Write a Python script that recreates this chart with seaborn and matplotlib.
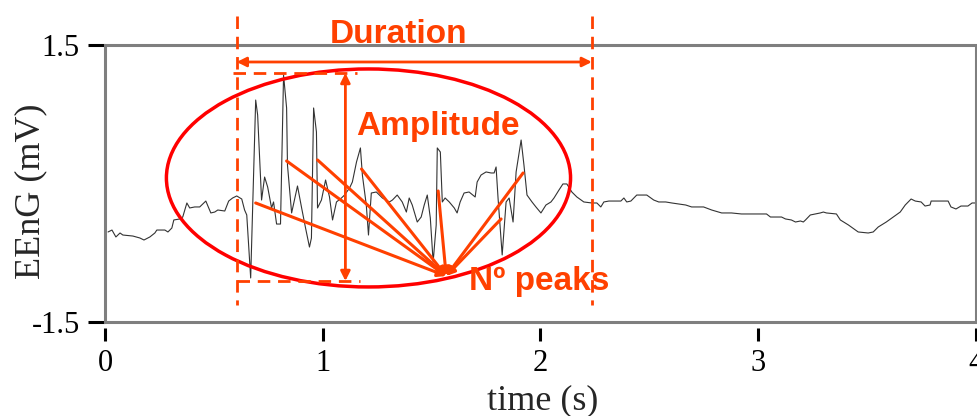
import seaborn as sns
import matplotlib.pyplot as plt
from matplotlib.patches import Ellipse, Rectangle

# EEnG trace (time in s, amplitude in mV)
time_s = [0.014, 0.032, 0.050, 0.069, 0.082, 0.128, 0.160, 0.179, 0.206, 0.229,
          0.238, 0.275, 0.289, 0.307, 0.316, 0.344, 0.357, 0.376, 0.389, 0.412,
          0.435, 0.444, 0.463, 0.486, 0.504, 0.518, 0.550, 0.568, 0.586, 0.605,
          0.628, 0.641,
          0.651, 0.669, 0.692, 0.701, 0.719, 0.733, 0.747, 0.765, 0.774, 0.788,
          0.806, 0.820, 0.834, 0.838, 0.857, 0.884, 0.903, 0.921, 0.939, 0.948,
          0.958, 0.971, 0.976, 0.994, 1.013, 1.031, 1.045, 1.063, 1.086, 1.100,
          1.123, 1.136, 1.155, 1.173, 1.182, 1.200, 1.210, 1.223, 1.246, 1.274,
          1.306, 1.320, 1.342, 1.365, 1.384, 1.397, 1.411, 1.434, 1.452, 1.466,
          1.480, 1.494, 1.507, 1.521, 1.526, 1.540, 1.549, 1.562, 1.581, 1.604,
          1.617, 1.631, 1.649, 1.672, 1.700, 1.709, 1.727, 1.750, 1.773, 1.787,
          1.796, 1.805, 1.824, 1.842, 1.856, 1.874, 1.888, 1.911, 1.924, 1.938,
          1.961, 1.979, 2.002, 2.025, 2.048, 2.062, 2.085, 2.103, 2.121, 2.144,
          2.167, 2.199, 2.236,
          2.259, 2.277, 2.291, 2.314, 2.369, 2.383, 2.396, 2.415, 2.442, 2.488,
          2.520, 2.543, 2.575, 2.603, 2.635, 2.667, 2.694, 2.749, 2.786, 2.832,
          2.877, 2.923, 3.001, 3.038, 3.056, 3.107, 3.125, 3.152, 3.171, 3.194,
          3.207, 3.217, 3.239, 3.285, 3.299, 3.313, 3.359, 3.377, 3.414, 3.459,
          3.505, 3.528, 3.551, 3.588, 3.620, 3.652, 3.675, 3.702, 3.721, 3.748,
          3.766, 3.789, 3.794, 3.872, 3.885, 3.908, 3.931, 3.963, 3.982, 4.000]

eeng_mv = [-0.525, -0.504, -0.579, -0.536, -0.558, -0.569, -0.590, -0.612, -0.579, -0.536,
           -0.504, -0.504, -0.525, -0.482, -0.395, -0.384, -0.363, -0.211, -0.265, -0.254,
           -0.254, -0.233, -0.190, -0.319, -0.309, -0.287, -0.298, -0.190, -0.157, -0.135,
           -0.168, -0.287,
           -0.341, -1.023, 0.904, 0.742, -0.179, 0.070, -0.038, -0.265, -0.200, -0.439,
           -0.439, 1.175, 0.818, 0.200, -0.319, -0.027, -0.265, -0.482, -0.688, -0.590,
           0.818, 0.558, -0.265, -0.179, 0.038, -0.146, -0.395, -0.200, -0.157, -0.125,
           -0.049, 0.016, 0.233, 0.385, 0.092, -0.233, -0.558, -0.103, -0.092, -0.157,
           -0.200, -0.179, -0.125, -0.200, -0.309, -0.157, -0.233, -0.417, -0.363, -0.233,
           -0.125, -0.374, -0.850, -0.449, 0.385, 0.341, -0.200, -0.157, -0.200, -0.265,
           -0.319, -0.200, -0.103, -0.092, -0.146, 0.016, 0.092, 0.125, 0.114, 0.114,
           0.179, -0.157, -0.774, -0.200, -0.157, -0.417, 0.125, 0.471, 0.200, -0.125,
           -0.200, -0.254, -0.319, -0.233, -0.200, -0.157, -0.070, -0.005, -0.005, -0.092,
           -0.146, -0.200, -0.211,
           -0.211, -0.254, -0.200, -0.190, -0.190, -0.157, -0.200, -0.190, -0.125, -0.125,
           -0.179, -0.200, -0.200, -0.211, -0.222, -0.233, -0.254, -0.254, -0.287, -0.319,
           -0.319, -0.330, -0.330, -0.330, -0.363, -0.363, -0.384, -0.395, -0.417, -0.406,
           -0.417, -0.395, -0.341, -0.319, -0.309, -0.319, -0.330, -0.395, -0.449, -0.525,
           -0.536, -0.525, -0.471, -0.417, -0.363, -0.309, -0.233, -0.168, -0.190, -0.200,
           -0.244, -0.233, -0.190, -0.190, -0.254, -0.276, -0.244, -0.244, -0.211, -0.211]

x_ticks = [0, 1, 2, 3, 4]
y_ticks = [-1.5, 1.5]
y_tick_labels = ['-1.5', '1.5']

# peaks marked with lines that meet at one point
peak_starts_t = [0.692, 0.834, 0.976, 1.178, 1.530, 1.819, 1.920]
peak_starts_v = [-0.211, 0.244, 0.255, 0.157, -0.081, -0.384, 0.114]
peak_meet = (1.567, -1.002)

sns.set_style('white')
plt.rcParams['font.family'] = ['Liberation Serif', 'DejaVu Serif']
plt.rcParams['axes.unicode_minus'] = False

fig = plt.figure(figsize=(9.78, 4.16), dpi=100)
ax = fig.add_axes([105 / 978, 1 - 322 / 416, 871 / 978, 277 / 416])

sns.lineplot(x=time_s, y=eeng_mv, ax=ax, color='#333333', linewidth=0.8,
             estimator=None)

ax.set_xlim(0, 4)
ax.set_ylim(-1.5, 1.5)
ax.set_xticks(x_ticks)
ax.set_yticks(y_ticks)
ax.set_yticklabels(y_tick_labels)

for s in ax.spines.values():
    s.set_visible(False)
ax.spines['bottom'].set_position(('outward', 4.5))
ax.add_patch(Rectangle((0, 0), 1, 1, transform=ax.transAxes, fill=False,
                       ec='#7f7f7f', lw=2.2, clip_on=False, zorder=3))
ax.tick_params(axis='both', which='major', bottom=True, left=True,
               direction='out', width=2.2, color='black', labelsize=22,
               pad=6, labelcolor='black')
ax.tick_params(axis='x', length=9)
ax.tick_params(axis='y', length=12)

ax.set_xlabel('time (s)', fontsize=26)
ax.set_ylabel('EEnG (mV)', fontsize=26)
ax.xaxis.set_label_coords(0.503, -0.225)
ax.yaxis.set_label_coords(-0.066, 0.473)

orange = '#ff4000'
bold = dict(family=['Liberation Sans', 'DejaVu Sans'], weight='bold',
            size=24, color=orange, zorder=6)
dash = (0, (4.5, 2.8))

ax.add_patch(Ellipse((1.21, 0.06), 1.856, 2.361, fill=False, ec='#ff0000',
                     lw=2.5, clip_on=False, zorder=4))

# duration
for xd in [0.605, 2.236]:
    ax.plot([xd, xd], [1.814, -1.316], ls=dash, color=orange, lw=2,
            clip_on=False, zorder=5)
ax.annotate('', xy=(0.605, 1.316), xytext=(2.236, 1.316),
            arrowprops=dict(arrowstyle='<|-|>', color=orange, lw=2,
                            mutation_scale=14, shrinkA=0, shrinkB=0),
            annotation_clip=False, zorder=5)
ax.text(1.349, 1.522, 'Duration', ha='center', va='baseline', **bold)

# amplitude
ax.plot([0.586, 1.155], [1.197, 1.197], ls=dash, color=orange, lw=2,
        clip_on=False, zorder=5)
ax.plot([0.605, 1.170], [-1.056, -1.056], ls=dash, color=orange, lw=2,
        clip_on=False, zorder=5)
ax.annotate('', xy=(1.104, 1.197), xytext=(1.104, -1.056),
            arrowprops=dict(arrowstyle='<|-|>', color=orange, lw=2,
                            mutation_scale=14, shrinkA=0, shrinkB=0),
            zorder=5)
ax.text(1.155, 0.525, 'Amplitude', ha='left', va='baseline', **bold)

# number of peaks
for pt, pv in zip(peak_starts_t, peak_starts_v):
    ax.annotate('', xy=peak_meet, xytext=(pt, pv),
                arrowprops=dict(arrowstyle='-|>', color=orange, lw=2.2,
                                mutation_scale=12, shrinkA=0, shrinkB=0),
                zorder=5)
ax.text(1.672, -1.153, 'Nº peaks', ha='left', va='baseline', **bold)

fig.savefig('out.png', dpi=100)
